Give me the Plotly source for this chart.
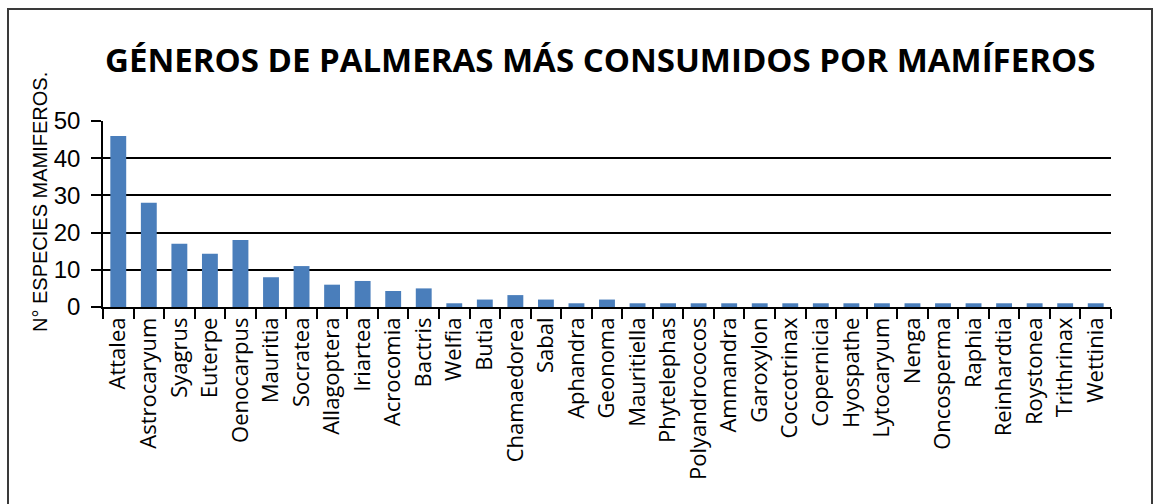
import plotly.graph_objects as go

generos = ["Attalea", "Astrocaryum", "Syagrus", "Euterpe", "Oenocarpus", "Mauritia",
           "Socratea", "Allagoptera", "Iriartea", "Acrocomia", "Bactris", "Welfia",
           "Butia", "Chamaedorea", "Sabal", "Aphandra", "Geonoma", "Mauritiella",
           "Phytelephas", "Polyandrococos", "Ammandra", "Garoxylon", "Coccotrinax",
           "Copernicia", "Hyospathe", "Lytocaryum", "Nenga", "Oncosperma", "Raphia",
           "Reinhardtia", "Roystonea", "Trithrinax", "Wettinia"]
especies = [46, 28, 17, 14.3, 18, 8, 11, 6, 7, 4.3, 5, 1, 2, 3.2, 2, 1, 2, 1,
            1, 1, 1, 1, 1, 1, 1, 1, 1, 1, 1, 1, 1, 1, 1]
y_ticks = [0, 10, 20, 30, 40, 50]

W, H = 1155, 504
ML, MT = 103, 121
MR = W - 1111
MB = H - 307
PW, PH = W - ML - MR, H - MT - MB


def px_x(p):
    return (p - ML) / PW


def px_y(p):
    return (H - MB - p) / PH


fig = go.Figure()
fig.add_trace(go.Bar(
    x=generos, y=especies,
    marker=dict(color="#4a7ebb", line=dict(width=0)),
    width=0.52,
))

fig.update_layout(
    width=W, height=H,
    margin=dict(l=ML, r=MR, t=MT, b=MB),
    paper_bgcolor="white", plot_bgcolor="white",
    showlegend=False,
    xaxis=dict(
        type="category", range=[-0.5, len(generos) - 0.5],
        tickson="boundaries", ticks="outside", ticklen=10, tickwidth=1.5,
        tickcolor="black", showline=True, linecolor="black", linewidth=1.5,
        showgrid=False, tickangle=-90,
        tickfont=dict(family="Open Sans", size=22, color="black"),
    ),
    yaxis=dict(
        range=[0, 50], tickvals=y_ticks, ticks="outside", ticklen=10,
        tickwidth=1.5, tickcolor="black", showline=True, linecolor="black",
        linewidth=1.5, showgrid=True, gridcolor="black", gridwidth=1.5,
        zeroline=False, ticklabelstandoff=6,
        tickfont=dict(family="Liberation Sans, Arial", size=24, color="black"),
    ),
    annotations=[
        dict(text="<b>GÉNEROS DE PALMERAS MÁS CONSUMIDOS POR MAMÍFEROS</b>",
             xref="paper", yref="paper", x=px_x(600), y=px_y(59),
             xanchor="center", yanchor="middle", showarrow=False,
             font=dict(family="Open Sans", size=33, color="black")),
        dict(text="N° ESPECIES MAMIFEROS.",
             xref="paper", yref="paper", x=px_x(40), y=px_y(202),
             xanchor="center", yanchor="middle", showarrow=False, textangle=-90,
             font=dict(family="Liberation Sans, Arial", size=20, color="black")),
    ],
    shapes=[
        dict(type="rect", xref="paper", yref="paper",
             x0=px_x(8), x1=px_x(1152), y0=px_y(520), y1=px_y(9),
             line=dict(color="#3a3a3a", width=2), fillcolor="rgba(0,0,0,0)",
             layer="above"),
    ],
)

fig.write_html(
    "out.html",
    config={"displayModeBar": False},
    post_script="document.body.style.margin='0';document.body.style.overflow='hidden';",
)
